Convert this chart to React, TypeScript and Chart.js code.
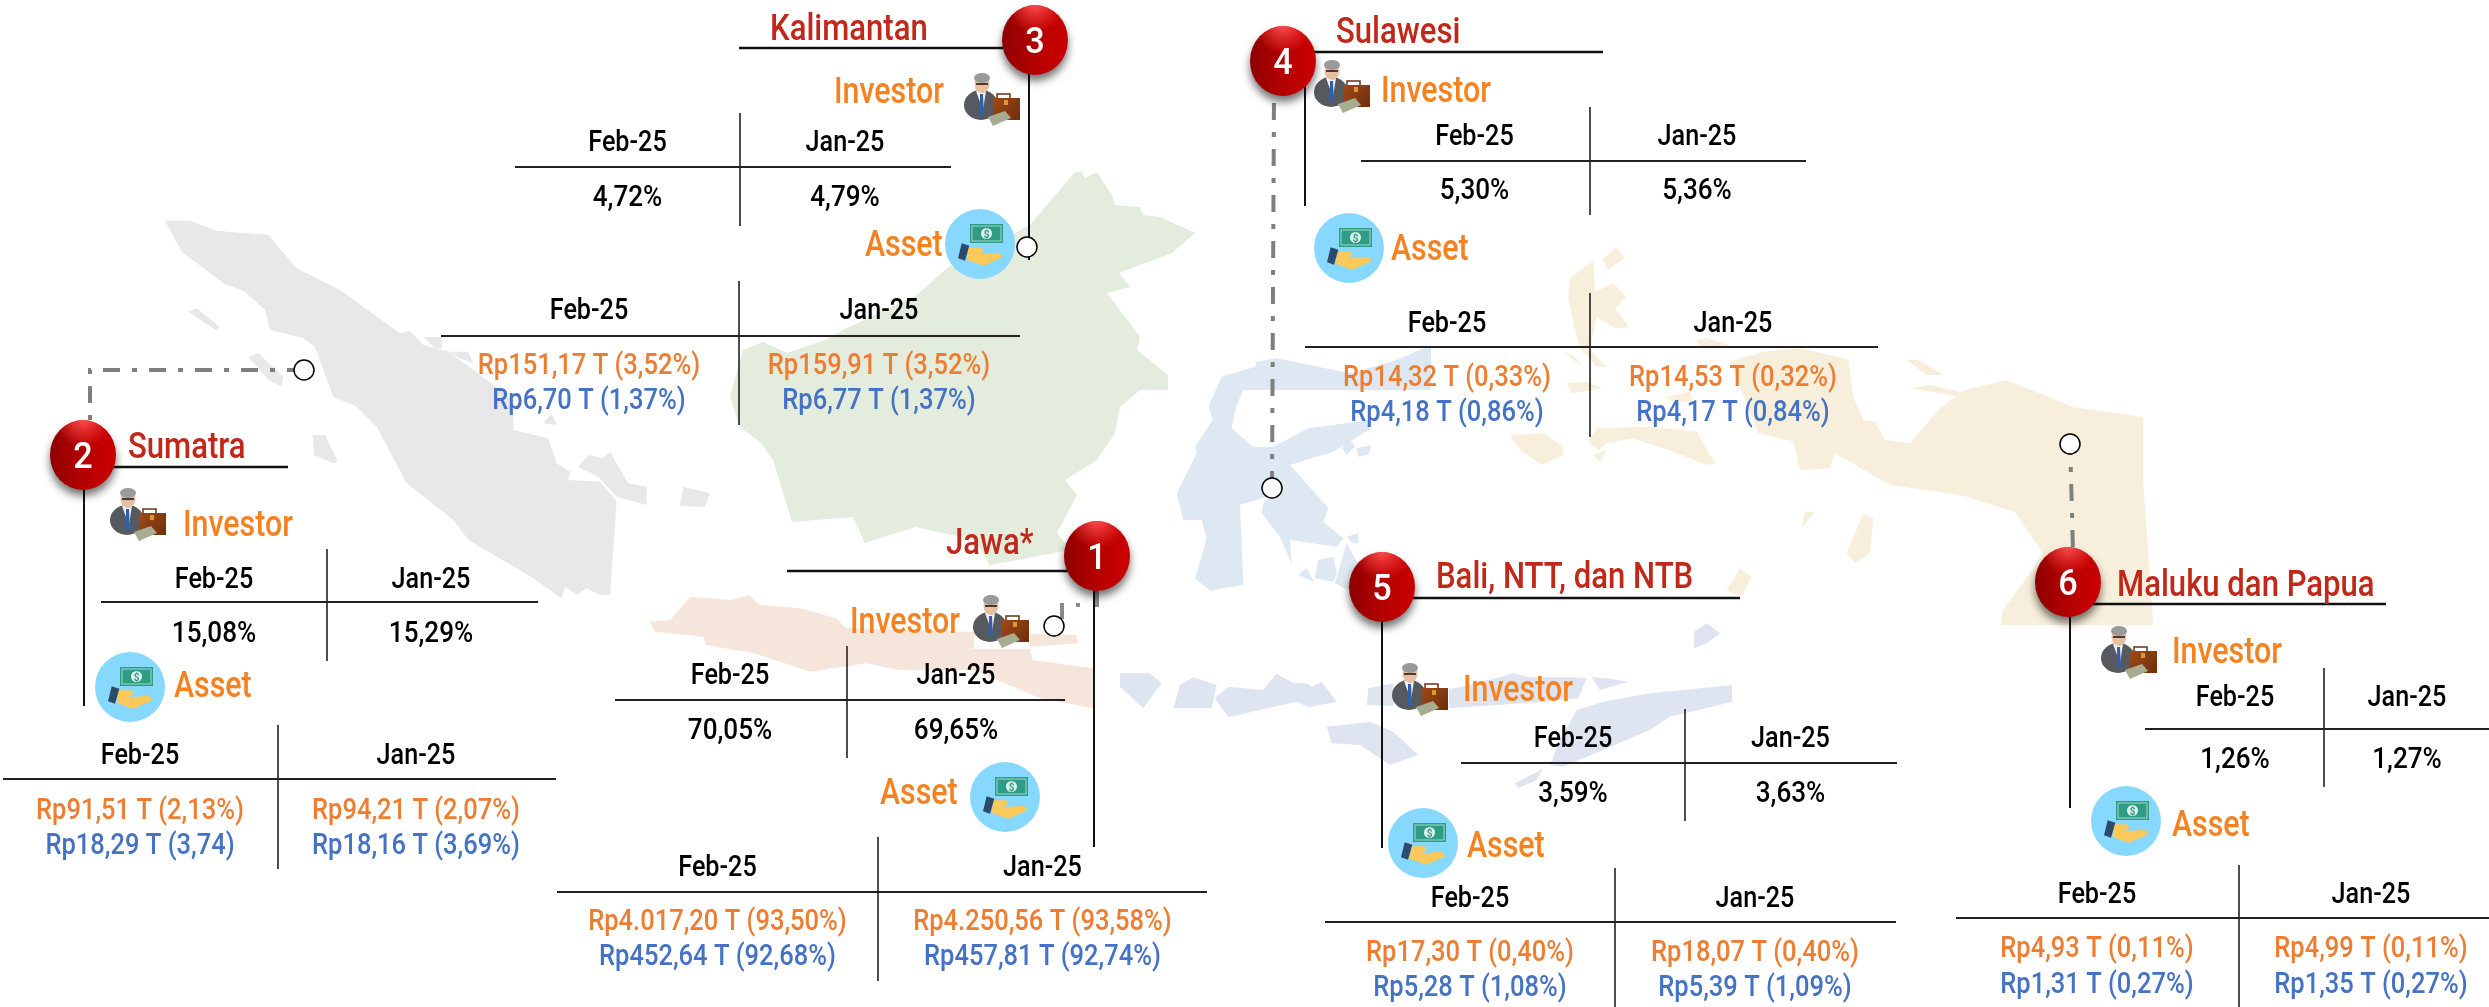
import React, { useEffect, useRef } from "react";
import { Chart, registerables } from "chart.js";

Chart.register(...registerables);

// ---------- content ----------
const badgeNumbers = ["1", "2", "3", "4", "5", "6"];
const regionNames = ["Jawa*", "Sumatra", "Kalimantan", "Sulawesi", "Bali, NTT, dan NTB", "Maluku dan Papua"];
const periods = ["Feb-25", "Jan-25"];
const investorFeb = ["70,05%", "15,08%", "4,72%", "5,30%", "3,59%", "1,26%"];
const investorJan = ["69,65%", "15,29%", "4,79%", "5,36%", "3,63%", "1,27%"];
const assetFebOrange = ["Rp4.017,20 T (93,50%)", "Rp91,51 T (2,13%)", "Rp151,17 T (3,52%)", "Rp14,32 T (0,33%)", "Rp17,30 T (0,40%)", "Rp4,93 T (0,11%)"];
const assetJanOrange = ["Rp4.250,56 T (93,58%)", "Rp94,21 T (2,07%)", "Rp159,91 T (3,52%)", "Rp14,53 T (0,32%)", "Rp18,07 T (0,40%)", "Rp4,99 T (0,11%)"];
const assetFebBlue = ["Rp452,64 T (92,68%)", "Rp18,29 T (3,74)", "Rp6,70 T (1,37%)", "Rp4,18 T (0,86%)", "Rp5,28 T (1,08%)", "Rp1,31 T (0,27%)"];
const assetJanBlue = ["Rp457,81 T (92,74%)", "Rp18,16 T (3,69%)", "Rp6,77 T (1,37%)", "Rp4,17 T (0,84%)", "Rp5,39 T (1,09%)", "Rp1,35 T (0,27%)"];

// ---------- map outlines, in map units ----------
type P = number[][];
const sumatraMain: P = [[75,62],[150,62],[230,92],[385,105],[470,205],[600,270],[780,400],[810,392],[850,435],[925,455],[1000,510],[1120,600],[1120,690],[1225,715],[1250,790],[1290,815],[1285,840],[1380,845],[1430,905],[1410,1185],[1380,1185],[1340,1165],[1310,1185],[1275,1160],[1265,1195],[1180,1135],[985,1020],[940,960],[800,850],[710,680],[650,620],[580,590],[525,440],[490,415],[390,390],[375,330],[315,275],[250,250],[125,155]];
const sumatraIslets: P[] = [
  [[145,335],[170,325],[240,380],[230,392]],
  [[325,470],[355,460],[430,530],[425,560],[385,540]],
  [[518,705],[555,705],[593,785],[580,790],[522,765]],
  [[1315,800],[1345,765],[1390,775],[1410,755],[1465,850],[1520,860],[1520,915],[1430,890],[1375,830]],
  [[850,412],[905,410],[905,445],[885,445]],
  [[925,455],[985,455],[1000,490],[960,475]],
  [[1210,670],[1235,640],[1250,675]],
];
const belitung: P = [[130,1040],[210,1060],[195,1100],[120,1098]];
const kalimantan: P = [[1075,172],[1082,172],[1085,178],[1097,172],[1113,197],[1115,205],[1140,207],[1143,215],[1160,217],[1195,233],[1172,253],[1119,273],[1130,287],[1107,293],[1140,337],[1137,350],[1168,375],[1168,390],[1140,390],[1120,407],[1115,433],[1097,460],[1065,480],[1077,495],[1057,533],[1070,550],[990,565],[975,540],[915,527],[865,543],[853,517],[792,522],[773,460],[760,442],[740,427],[730,397],[743,350],[763,342],[787,353],[825,340],[843,330],[917,295],[947,268],[1030,225]];
const java: P = [[215,365],[255,360],[295,290],[375,300],[410,285],[430,315],[510,325],[580,355],[600,385],[1050,405],[1055,430],[960,440],[965,480],[1085,505],[1085,625],[980,595],[850,510],[700,510],[640,490],[530,515],[420,460],[325,435],[320,410],[225,395]];
const sulawesiMain: P = [[380,65],[440,55],[660,100],[800,60],[903,15],[903,150],[590,150],[340,150],[318,200],[305,265],[370,322],[430,320],[535,265],[720,240],[720,268],[610,335],[480,375],[595,505],[580,545],[640,595],[620,620],[480,600],[485,672],[450,590],[395,520],[400,490],[425,465],[330,495],[340,735],[240,752],[195,715],[230,595],[215,540],[160,540],[140,460],[200,340],[195,320],[248,240],[235,200],[275,110],[375,80]];
const sulawesiIslets: P[] = [
  [[555,715],[565,660],[610,650],[620,700],[610,725]],
  [[615,730],[650,610],[700,700],[655,750]],
  [[505,705],[530,685],[552,725]],
  [[650,590],[685,580],[685,610],[670,610]],
  [[635,320],[660,300],[675,320],[650,345]],
  [[680,325],[725,315],[715,345],[685,350]],
];
const nusaIslands: P[] = [
  [[-30,1000],[60,1000],[95,1030],[40,1105],[-30,1040]],
  [[130,1105],[150,1035],[190,1012],[260,1035],[245,1105]],
  [[255,1075],[295,1040],[400,1050],[410,1035],[440,1002],[490,1028],[530,1030],[545,1040],[575,1025],[620,1085],[535,1102],[500,1085],[295,1132]],
  [[710,1095],[715,1045],[790,1030],[880,1060],[1000,1040],[1150,1000],[1200,1012],[1340,1012],[1370,1015],[1345,1075],[1240,1085],[960,1105]],
  [[590,1160],[720,1145],[790,1175],[865,1245],[780,1275],[690,1215],[605,1210]],
  [[1385,1012],[1430,1015],[1495,1025],[1410,1050]],
  [[1260,1275],[1290,1200],[1340,1110],[1420,1085],[1560,1060],[1806,1035],[1806,1086],[1620,1130],[1560,1170],[1300,1280]],
  [[1155,1330],[1240,1285],[1220,1320],[1165,1345]],
  [[1692,875],[1730,850],[1770,880],[1730,910],[1692,925]],
];
const malukuIslands: P[] = [
  [[205,235],[210,175],[280,122],[285,215],[340,190],[380,230],[345,265],[388,322],[345,325],[290,290],[270,390],[320,440],[290,440],[240,385],[225,330]],
  [[308,120],[350,80],[372,115],[325,150]],
  [[190,395],[225,410],[250,440],[220,420]],
  [[200,490],[260,485],[305,505],[215,520]],
  [[500,530],[570,515],[580,545],[520,545]],
  [[585,360],[620,355],[690,375],[610,385]],
  [[265,665],[290,625],[450,620],[590,635],[645,730],[620,735],[520,695],[400,655],[320,670],[295,690]],
  [[280,705],[320,690],[300,725]],
  [[30,645],[130,640],[190,680],[190,705],[125,735],[60,690]],
  [[1040,1000],[1090,880],[1120,895],[1110,1000],[1065,1030]],
  [[905,925],[915,875],[945,875]],
  [[680,1110],[720,1045],[755,1070],[725,1130]],
  [[1220,420],[1255,420],[1330,465],[1280,465]],
  [[1230,505],[1290,495],[1395,520],[1380,530]],
];
const papua: P = [[690,425],[790,395],[900,385],[1045,418],[1060,530],[1090,600],[1125,605],[1155,660],[1230,670],[1320,565],[1395,510],[1520,480],[1720,561],[1930,591],[1930,790],[1960,1215],[1503,1215],[1509,1170],[1590,1060],[1629,1000],[1545,876],[1380,825],[1170,795],[1005,700],[990,745],[900,750],[880,665],[775,640]];

// ---------- layout of each region block ----------
const blocks = [
  { ball:[1097,556], title:[946,554], under:[787,1070,571], stem:[1094,590,847],
    invIcon:[1002,622], invLabel:[850,633], invT:{v:847,v0:646,v1:758,h:700,h0:615,h1:1065,head:684,val:739,c0:730,c1:956},
    assetIcon:[1005,797], assetLabel:[880,804], assetT:{v:878,v0:837,v1:981,h:892,h0:557,h1:1207,head:876,r1:930,r2:965,c0:717.5,c1:1042.5} },
  { ball:[83,455], title:[128,458], under:[110,288,467], stem:[84,488,706],
    invIcon:[139,515], invLabel:[183,536], invT:{v:327,v0:549,v1:661,h:602,h0:101,h1:538,head:588,val:642,c0:214,c1:431},
    assetIcon:[130,687], assetLabel:[174,697], assetT:{v:278,v0:725,v1:869,h:779,h0:3,h1:556,head:764,r1:819,r2:854,c0:140,c1:416} },
  { ball:[1035,40], title:[770,40], under:[739,1003,48], stem:[1029,73,260],
    invIcon:[993,100], invLabel:[834,103], invT:{v:740,v0:113,v1:226,h:167,h0:515,h1:951,head:151,val:206,c0:627.5,c1:845},
    assetIcon:[980,244], assetLabel:[865,256], assetT:{v:739,v0:281,v1:425,h:336,h0:441,h1:1020,head:319,r1:374,r2:409,c0:589,c1:879} },
  { ball:[1283,61], title:[1336,43], under:[1310,1603,52], stem:[1305,80,206],
    invIcon:[1343,87], invLabel:[1381,102], invT:{v:1590,v0:107,v1:215,h:161,h0:1361,h1:1806,head:145,val:199,c0:1474.5,c1:1697},
    assetIcon:[1349,248], assetLabel:[1391,260], assetT:{v:1590,v0:293,v1:437,h:347,h0:1305,h1:1878,head:332,r1:386,r2:421,c0:1447,c1:1733} },
  { ball:[1382,587], title:[1436,588], under:[1410,1740,598], stem:[1382,620,848],
    invIcon:[1421,690], invLabel:[1463,701], invT:{v:1685,v0:709,v1:821,h:763,h0:1461,h1:1897,head:747,val:802,c0:1573,c1:1790.5},
    assetIcon:[1423,843], assetLabel:[1467,857], assetT:{v:1615,v0:868,v1:1007,h:922,h0:1325,h1:1896,head:907,r1:961,r2:996,c0:1470,c1:1755} },
  { ball:[2068,582], title:[2117,596], under:[2090,2386,604], stem:[2070,615,808],
    invIcon:[2130,653], invLabel:[2172,663], invT:{v:2324,v0:668,v1:787,h:729,h0:2145,h1:2489,head:706,val:768,c0:2235,c1:2407},
    assetIcon:[2126,821], assetLabel:[2172,836], assetT:{v:2239,v0:865,v1:1007,h:918,h0:1956,h1:2489,head:903,r1:957,r2:993,c0:2097,c1:2371} },
];
const connectors: P[] = [
  [[304,370],[90,370],[90,424]],
  [[1272,488],[1274,96]],
  [[2070,438],[2073,552]],
];
const jawaDashes: P[] = [
  [[1097,590],[1097,607]],
  [[1078,603],[1078,607]],
  [[1062,603],[1062,619]],
];
const markers: P = [[304,370],[1027,247],[1272,488],[1054,626],[2070,444]];

const FONT = "Roboto";
const C_TITLE = "#C0291A";
const C_LABEL = "#F58220";
const C_ORANGE = "#ED7D31";
const C_BLUE = "#4472C4";

const toXY = (arr: P, ox = 0, oy = 0, s = 1, sy = s) => arr.map(([x, y]) => ({ x: ox + x / s, y: oy + y / sy }));
const shape = (data: any[], color: string) => ({ data, showLine: false, pointRadius: 0, mapFill: color });
const rule = (x0: number, y0: number, x1: number, y1: number, width = 2, color = "#111") => ({
  data: [{ x: x0, y: y0 }, { x: x1, y: y1 }], showLine: true, pointRadius: 0, borderColor: color, borderWidth: width, tension: 0,
});

function buildDatasets() {
  const sets: any[] = [];
  sets.push(shape(toXY(sumatraMain, 140, 200, 3), "#E8E8E8"));
  sumatraIslets.forEach((p) => sets.push(shape(toXY(p, 140, 200, 3), "#E8E8E8")));
  sets.push(shape(toXY(belitung, 640, 140, 3), "#E8E8E8"));
  sets.push(shape(toXY(kalimantan), "#E3ECDD"));
  sets.push(shape(toXY(java, 540, 500, 1.96, 3), "#F6E5DB"));
  sets.push(shape(toXY(sulawesiMain, 1130, 340, 3), "#DEE8F2"));
  sulawesiIslets.forEach((p) => sets.push(shape(toXY(p, 1130, 340, 3), "#DEE8F2")));
  nusaIslands.forEach((p) => sets.push(shape(toXY(p, 1130, 340, 3), "#DFE5F0")));
  malukuIslands.forEach((p) => sets.push(shape(toXY(p, 1500, 220, 3), "#F7EFDB")));
  sets.push(shape(toXY(papua, 1500, 220, 3), "#F7EFDB"));

  connectors.forEach((c) =>
    sets.push({ data: toXY(c), showLine: true, pointRadius: 0, borderColor: "#7F7F7F", borderWidth: 4, borderDash: [17, 12, 5, 12], tension: 0, order: 3 })
  );
  jawaDashes.forEach((c) =>
    sets.push({ data: toXY(c), showLine: true, pointRadius: 0, borderColor: "#8A8A8A", borderWidth: 4, tension: 0, order: 3 })
  );

  blocks.forEach((b) => {
    sets.push({ ...rule(b.under[0], b.under[2], b.under[1], b.under[2], 2.5), order: 2 });
    sets.push({ ...rule(b.stem[0], b.stem[1], b.stem[0], b.stem[2], 2), order: 2 });
    [b.invT, b.assetT].forEach((t) => {
      sets.push({ ...rule(t.v, t.v0, t.v, t.v1, 1.6, "#222"), order: 2 });
      sets.push({ ...rule(t.h0, t.h, t.h1, t.h, 2, "#222"), order: 2 });
    });
  });

  sets.push({
    data: toXY(markers), showLine: false, pointRadius: 10, pointHoverRadius: 10,
    pointBackgroundColor: "#FFFFFF", pointBorderColor: "#000000", pointBorderWidth: 1.5, order: 0,
  });
  return sets;
}

function text(ctx: any, s: string, x: number, y: number, size: number, weight: number, color: string, align = "center", hs = 0.86) {
  ctx.save();
  ctx.translate(x, y);
  ctx.scale(hs, 1);
  ctx.font = `${weight} ${size}px ${FONT}`;
  ctx.fillStyle = color;
  ctx.textAlign = align;
  ctx.textBaseline = "alphabetic";
  ctx.fillText(s, 0, 0);
  ctx.restore();
}

function poly(ctx: any, pts: number[][], color: string) {
  ctx.fillStyle = color;
  ctx.beginPath();
  pts.forEach(([x, y], i) => (i ? ctx.lineTo(x, y) : ctx.moveTo(x, y)));
  ctx.closePath();
  ctx.fill();
}

function ball(ctx: any, x: number, y: number, label: string) {
  const rx = 33, ry = 35;
  ctx.save();
  ctx.shadowColor = "rgba(0,0,0,0.55)";
  ctx.shadowBlur = 9;
  ctx.shadowOffsetY = 6;
  const g = ctx.createLinearGradient(x - rx, y, x + rx, y);
  g.addColorStop(0, "#8E0000");
  g.addColorStop(0.5, "#B40000");
  g.addColorStop(1, "#CC0000");
  ctx.fillStyle = g;
  ctx.beginPath();
  ctx.ellipse(x, y, rx, ry, 0, 0, Math.PI * 2);
  ctx.fill();
  ctx.restore();
  ctx.save();
  ctx.beginPath();
  ctx.ellipse(x, y, rx, ry, 0, 0, Math.PI * 2);
  ctx.clip();
  const h = ctx.createRadialGradient(x, y - ry - 2, 2, x, y - ry - 2, 30);
  h.addColorStop(0, "rgba(255,80,80,0.95)");
  h.addColorStop(1, "rgba(255,60,60,0)");
  ctx.fillStyle = h;
  ctx.fillRect(x - rx, y - ry, rx * 2, ry);
  ctx.restore();
  text(ctx, label, x, y + 13, 36, 500, "#FFFFFF", "center", 0.95);
}

function investorIcon(ctx: any, x: number, y: number) {
  ctx.save();
  ctx.fillStyle = "#FFFFFF";
  ctx.fillRect(x - 28, y - 28, 56, 55);
  ctx.translate(x, y);
  ctx.fillStyle = "#565A5E";
  ctx.beginPath();
  ctx.ellipse(-12, 5, 17, 15, 0, 0, Math.PI * 2);
  ctx.fill();
  poly(ctx, [[-17, -9], [-7, -9], [-10, 10]], "#F2F2F2");
  poly(ctx, [[-13, -6], [-10, -6], [-9, 15], [-13, 15]], "#2F5FB0");
  ctx.fillStyle = "#E8BFA0";
  ctx.beginPath();
  ctx.ellipse(-11, -16, 7.5, 9, 0, 0, Math.PI * 2);
  ctx.fill();
  ctx.fillStyle = "#9A9A9A";
  ctx.beginPath();
  ctx.ellipse(-11, -22, 8, 5, 0, 0, Math.PI * 2);
  ctx.fill();
  ctx.fillStyle = "#4A3A30";
  ctx.fillRect(-17, -17, 12, 2);
  ctx.strokeStyle = "#6B3010";
  ctx.lineWidth = 1.5;
  ctx.strokeRect(4, -6, 13, 6);
  const g = ctx.createLinearGradient(0, -3, 27, 20);
  g.addColorStop(0, "#A14A18");
  g.addColorStop(1, "#6E2E0C");
  ctx.fillStyle = g;
  ctx.fillRect(0, -2, 27, 22);
  ctx.fillStyle = "#D89A30";
  ctx.fillRect(11, 0, 4, 5);
  poly(ctx, [[-5, 17], [12, 11], [18, 18], [0, 26]], "#A8AC90");
  ctx.restore();
}

function assetIcon(ctx: any, x: number, y: number) {
  ctx.save();
  ctx.translate(x, y);
  ctx.fillStyle = "#86D8FF";
  ctx.beginPath();
  ctx.arc(0, 0, 35, 0, Math.PI * 2);
  ctx.fill();
  ctx.fillStyle = "#2F9C85";
  ctx.fillRect(-10, -20, 33, 19);
  ctx.strokeStyle = "#BFE6DC";
  ctx.lineWidth = 0.8;
  ctx.strokeRect(-8, -18, 29, 15);
  ctx.fillStyle = "#DDF2EC";
  ctx.beginPath();
  ctx.arc(6.5, -10.5, 5.5, 0, Math.PI * 2);
  ctx.fill();
  text(ctx, "$", 6.5, -6.5, 10, 700, "#2F9C85", "center", 1);
  poly(ctx, [[-11.7,3.3],[1.7,3.3],[3.3,7.7],[-1.7,10.3],[19.3,8.7],[22.3,13.3],[3.3,21.7],[-13.3,16]], "#FBC85A");
  poly(ctx, [[-18.3,-0.7],[-10.7,1.7],[-15,16.7],[-22,14.3]], "#2C4A6B");
  ctx.restore();
}

const mapFillPlugin = {
  id: "mapFill",
  beforeDatasetsDraw(chart: any) {
    const { ctx } = chart;
    chart.data.datasets.forEach((ds: any, i: number) => {
      if (!ds.mapFill) return;
      const pts = chart.getDatasetMeta(i).data;
      ctx.save();
      ctx.fillStyle = ds.mapFill;
      ctx.beginPath();
      pts.forEach((p: any, k: number) => (k ? ctx.lineTo(p.x, p.y) : ctx.moveTo(p.x, p.y)));
      ctx.closePath();
      ctx.fill();
      ctx.restore();
    });
  },
};

const annotationPlugin = {
  id: "annotations",
  afterDatasetsDraw(chart: any) {
    const { ctx, scales } = chart;
    const X = (v: number) => scales.x.getPixelForValue(v);
    const Y = (v: number) => scales.y.getPixelForValue(v);
    blocks.forEach((b, i) => {
      investorIcon(ctx, X(b.invIcon[0]), Y(b.invIcon[1]));
      assetIcon(ctx, X(b.assetIcon[0]), Y(b.assetIcon[1]));
      ball(ctx, X(b.ball[0]), Y(b.ball[1]), badgeNumbers[i]);
      text(ctx, regionNames[i], X(b.title[0]), Y(b.title[1]), 37, 500, C_TITLE, "left", 0.84);
      text(ctx, "Investor", X(b.invLabel[0]), Y(b.invLabel[1]), 37, 500, C_LABEL, "left", 0.82);
      text(ctx, "Asset", X(b.assetLabel[0]), Y(b.assetLabel[1]), 37, 500, C_LABEL, "left", 0.82);
      const it = b.invT, at = b.assetT;
      text(ctx, periods[0], X(it.c0), Y(it.head), 30, 500, "#000", "center", 0.84);
      text(ctx, periods[1], X(it.c1), Y(it.head), 30, 500, "#000", "center", 0.84);
      text(ctx, investorFeb[i], X(it.c0), Y(it.val), 30, 500, "#000", "center", 0.87);
      text(ctx, investorJan[i], X(it.c1), Y(it.val), 30, 500, "#000", "center", 0.87);
      text(ctx, periods[0], X(at.c0), Y(at.head), 30, 500, "#000", "center", 0.84);
      text(ctx, periods[1], X(at.c1), Y(at.head), 30, 500, "#000", "center", 0.84);
      text(ctx, assetFebOrange[i], X(at.c0), Y(at.r1), 30, 500, C_ORANGE, "center", 0.85);
      text(ctx, assetJanOrange[i], X(at.c1), Y(at.r1), 30, 500, C_ORANGE, "center", 0.85);
      text(ctx, assetFebBlue[i], X(at.c0), Y(at.r2), 30, 500, C_BLUE, "center", 0.85);
      text(ctx, assetJanBlue[i], X(at.c1), Y(at.r2), 30, 500, C_BLUE, "center", 0.85);
    });
  },
};

export default function App() {
  const ref = useRef<HTMLCanvasElement | null>(null);
  useEffect(() => {
    const chart = new Chart(ref.current as any, {
      type: "scatter",
      data: { datasets: buildDatasets() },
      options: {
        animation: false,
        responsive: false,
        layout: { padding: 0, autoPadding: false },
        events: [],
        plugins: { legend: { display: false }, tooltip: { enabled: false }, title: { display: false } },
        scales: {
          x: { type: "linear", min: 0, max: 2489, display: false },
          y: { type: "linear", min: 0, max: 1007, reverse: true, display: false },
        },
      },
      plugins: [mapFillPlugin, annotationPlugin],
    } as any);
    return () => chart.destroy();
  }, []);
  return (
    <canvas
      ref={ref}
      width={2489}
      height={1007}
      style={{ position: "fixed", left: 0, top: 0, width: 2489, height: 1007, display: "block", background: "#fff" }}
    />
  );
}
